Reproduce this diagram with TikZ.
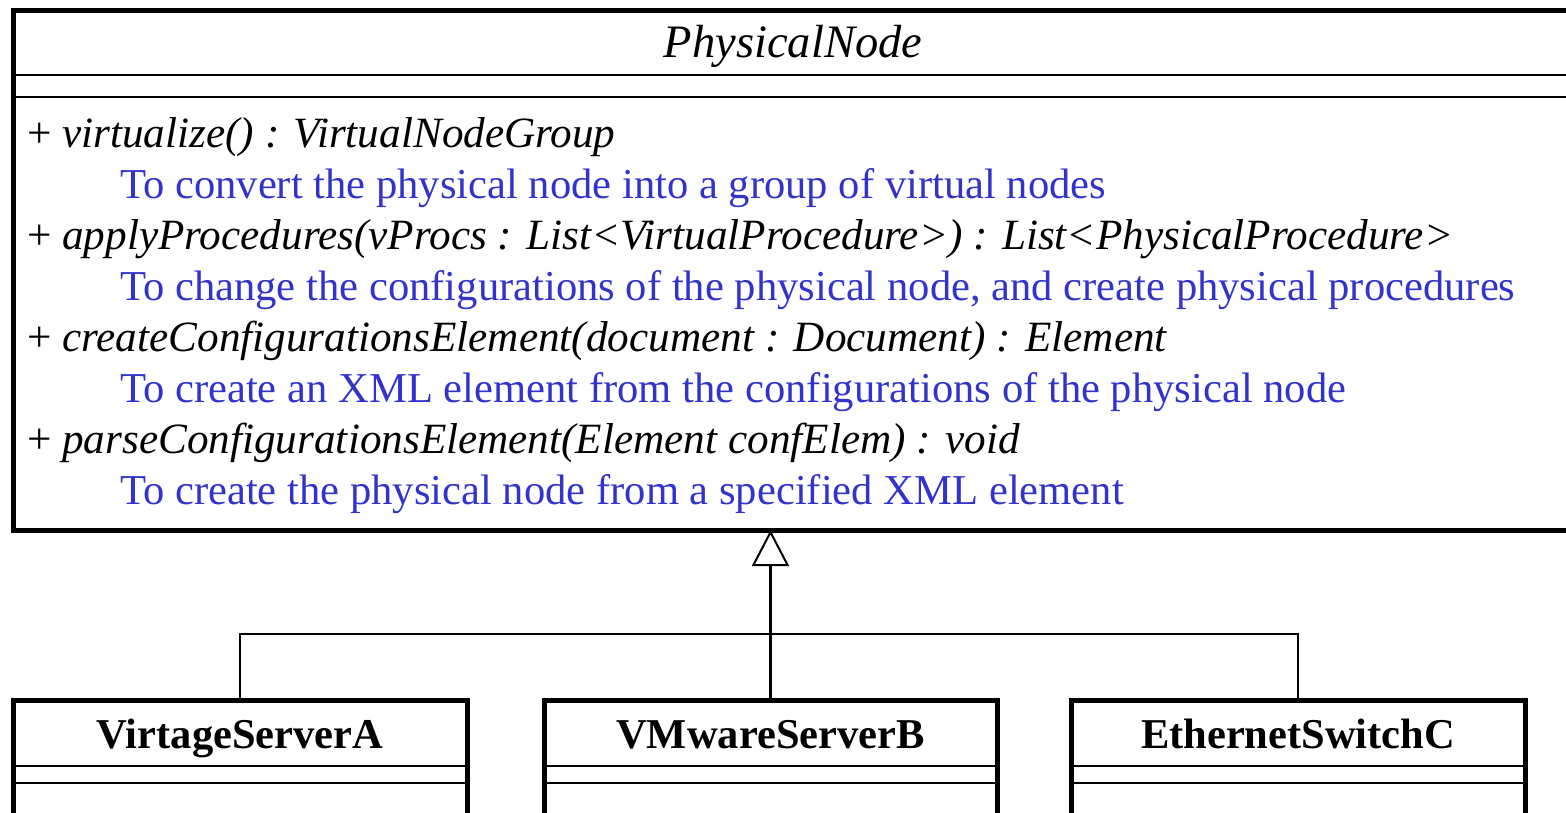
\documentclass[tikz,border=0pt]{standalone}
\usepackage{fontspec}
\setmainfont{Liberation Serif}
\usetikzlibrary{arrows.meta}
\definecolor{noteblue}{RGB}{51,51,204}
\tikzset{
  classbox/.style={draw, line width=5pt, inner sep=0pt, outer sep=0pt, anchor=north west},
  divider/.style={line width=2pt},
  link/.style={line width=2.5pt},
  generalize/.style={line width=2.5pt, -{Triangle[open, length=36pt, width=37pt, line width=2pt]}},
  member/.style={anchor=base west, inner sep=0pt, font=\fontsize{43.2}{51}\selectfont\itshape},
  note/.style={anchor=base west, inner sep=0pt, text=noteblue, font=\fontsize{42.6}{51}\selectfont},
  classtitle/.style={anchor=base, inner sep=0pt, font=\fontsize{46.5}{51}\selectfont\itshape},
  subtitle/.style={anchor=base, inner sep=0pt, font=\fontsize{42.5}{51}\selectfont\bfseries},
}
\begin{document}
\begin{tikzpicture}[x=1pt, y=-1pt]
  \useasboundingbox (0,0) rectangle (1566,812);
  \clip (0,0) rectangle (1566,812);

  % abstract base class
  \node[classbox, minimum width=1560pt, minimum height=520pt] (phys) at (13,10) {};
  \draw[divider] (13,75) -- (1573,75);
  \draw[divider] (13,97) -- (1573,97);
  \node[classtitle] (physname) at (793,57) {PhysicalNode};

  \node[member] (m1) at (27,147) {\textup{+} virtualize() : VirtualNodeGroup};
  \node[note]   (n1) at (120,198) {To convert the physical node into a group of virtual nodes};
  \node[member] (m2) at (27,249) {\textup{+} applyProcedures(vProcs : List<VirtualProcedure>) : List<PhysicalProcedure>};
  \node[note]   (n2) at (120,300) {To change the configurations of the physical node, and create physical procedures};
  \node[member] (m3) at (27,351) {\textup{+} createConfigurationsElement(document : Document) : Element};
  \node[note]   (n3) at (120,402) {To create an XML element from the configurations of the physical node};
  \node[member] (m4) at (27,453) {\textup{+} parseConfigurationsElement(Element confElem) : void};
  \node[note]   (n4) at (120,504) {To create the physical node from a specified XML element};

  % concrete subclasses
  \node[classbox, minimum width=454pt, minimum height=200pt] (va) at (13,700) {};
  \node[classbox, minimum width=453pt, minimum height=200pt] (vb) at (544,700) {};
  \node[classbox, minimum width=454pt, minimum height=200pt] (vc) at (1071,700) {};
  \foreach \b in {va,vb,vc}{
    \draw[divider] (\b.west |- 0,766) -- (\b.east |- 0,766);
    \draw[divider] (\b.west |- 0,783) -- (\b.east |- 0,783);
  }
  \node[subtitle] (vaname) at (va.north |- 0,748) {VirtageServerA};
  \node[subtitle] (vbname) at (vb.north |- 0,748) {VMwareServerB};
  \node[subtitle] (vcname) at (vc.north |- 0,748) {EthernetSwitchC};

  % generalization tree
  \coordinate (bus) at (vb.north |- 0,634);
  \draw[link] (va.north) |- (bus) -| (vc.north);
  \draw[link] (vb.north) -- (bus);
  \draw[generalize] (bus) -- (bus |- phys.south);
\end{tikzpicture}
\end{document}
